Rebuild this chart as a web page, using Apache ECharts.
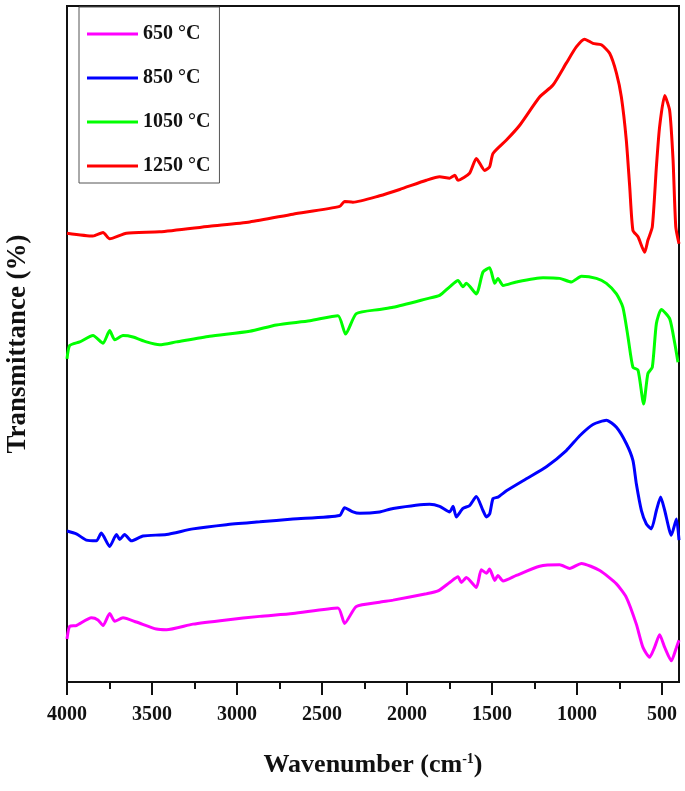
<!DOCTYPE html>
<html>
<head>
<meta charset="utf-8">
<script src="https://cdn.jsdelivr.net/npm/echarts@6/dist/echarts.min.js"></script>
<style>
html,body{margin:0;padding:0;background:#fff;}
#chart{width:685px;height:791px;}
</style>
</head>
<body>
<div id="chart"></div>
<script>
const seriesNames = ['650 °C', '850 °C', '1050 °C', '1250 °C'];
const seriesColors = ['#ff00ff', '#0000ff', '#00ff00', '#ff0000'];
const majorTicks = [4000, 3500, 3000, 2500, 2000, 1500, 1000, 500];
const minorTicks = [3750, 3250, 2750, 2250, 1750, 1250, 750];

const s650 = [[4000,10.3],[3984,12.1],[3945,12.2],[3856,13.3],[3818,13.0],[3788,12.2],[3749,13.9],[3719,12.8],[3671,13.3],[3592,12.7],[3474,11.7],[3415,11.6],[3259,12.4],[3062,13.0],[2866,13.5],[2671,13.9],[2406,14.7],[2367,12.5],[2298,14.9],[2161,15.5],[2082,15.8],[1886,16.7],[1818,17.1],[1749,18.3],[1700,19.1],[1680,18.3],[1651,19.0],[1592,17.6],[1563,20.1],[1533,19.6],[1514,20.2],[1484,18.6],[1465,19.3],[1435,18.5],[1357,19.3],[1220,20.6],[1102,20.8],[1043,20.3],[974,21.0],[866,20.0],[768,18.1],[710,16.2],[651,12.4],[612,9.1],[573,7.7],[544,9.1],[514,10.9],[484,9.1],[445,7.2],[415,9.1],[400,10.1]];

const s850 = [[4000,25.6],[3945,25.2],[3886,24.3],[3827,24.2],[3798,25.3],[3749,23.4],[3709,25.1],[3690,24.4],[3661,25.1],[3621,24.2],[3553,24.9],[3415,25.1],[3259,25.9],[3062,26.5],[2866,26.9],[2671,27.3],[2396,27.8],[2367,28.9],[2318,28.3],[2278,28.1],[2161,28.3],[2082,28.8],[1867,29.4],[1808,29.1],[1749,28.3],[1729,29.1],[1710,27.6],[1671,28.8],[1632,29.2],[1592,30.5],[1553,28.5],[1533,27.6],[1514,28.0],[1494,30.2],[1465,30.4],[1415,31.3],[1298,33.0],[1180,34.7],[1063,37.0],[984,39.1],[906,40.7],[827,41.3],[768,40.3],[710,38.0],[671,35.6],[651,32.3],[621,28.5],[592,26.6],[563,25.9],[533,28.5],[508,30.4],[484,28.5],[445,25.0],[415,27.3],[400,24.3]];

const s1050 = [[4000,50.0],[3984,51.9],[3925,52.4],[3847,53.3],[3788,52.2],[3749,54.0],[3719,52.7],[3671,53.3],[3612,53.1],[3533,52.4],[3455,52.0],[3357,52.4],[3161,53.2],[2925,53.9],[2768,54.8],[2571,55.4],[2406,56.1],[2361,53.5],[2298,56.4],[2161,57.0],[2082,57.3],[1886,58.5],[1808,59.0],[1749,60.2],[1700,61.1],[1671,60.2],[1651,60.7],[1592,59.2],[1553,62.3],[1514,62.9],[1484,60.7],[1465,61.4],[1435,60.4],[1357,60.9],[1200,61.5],[1102,61.4],[1033,60.9],[974,61.7],[886,61.4],[827,60.7],[768,59.2],[730,57.3],[700,53.1],[671,48.8],[641,48.4],[608,43.6],[583,47.9],[557,48.8],[533,55.0],[504,57.0],[455,55.7],[425,52.2],[406,49.5]];

const s1250 = [[4000,67.8],[3847,67.4],[3788,67.9],[3749,67.0],[3651,67.8],[3455,68.0],[3161,68.8],[2925,69.4],[2671,70.5],[2396,71.6],[2367,72.3],[2318,72.2],[2161,73.1],[2043,74.0],[1886,75.3],[1808,75.8],[1749,75.6],[1719,76.0],[1700,75.3],[1632,76.3],[1592,78.4],[1543,76.7],[1514,77.2],[1494,79.1],[1415,81.0],[1337,83.1],[1220,87.1],[1141,88.8],[1063,91.9],[1004,94.2],[955,95.3],[906,94.7],[857,94.5],[808,93.3],[768,90.5],[739,87.1],[710,81.0],[690,74.4],[671,68.2],[641,67.3],[602,65.1],[583,66.8],[557,68.7],[533,77.2],[514,82.9],[484,87.3],[455,85.2],[435,78.2],[419,68.7],[400,66.3]];

const allData = [s650, s850, s1050, s1250];
const FONT = '"Liberation Serif", "Times New Roman", serif';

const chart = echarts.init(document.getElementById('chart'));
chart.setOption({
  animation: false,
  backgroundColor: '#fff',
  grid: {
    left: 67, right: 6, top: 6, bottom: 109,
    containLabel: false,
    outerBoundsMode: 'none',
    show: true, borderColor: '#111', borderWidth: 2, backgroundColor: 'transparent'
  },
  legend: {
    orient: 'vertical',
    left: 79, top: 7,
    padding: [17, 9, 7, 8],
    itemGap: 24,
    itemWidth: 51,
    itemHeight: 3,
    borderColor: '#555',
    borderWidth: 1,
    backgroundColor: '#fff',
    icon: 'rect',
    data: seriesNames,
    textStyle: { fontFamily: FONT, fontWeight: 'bold', fontSize: 20, color: '#111' }
  },
  xAxis: [{
    type: 'value',
    inverse: true,
    min: 400, max: 4000,
    splitLine: { show: false },
    axisLine: { show: true, lineStyle: { color: '#111', width: 2 } },
    axisTick: { show: true, customValues: majorTicks, length: 13, inside: false, lineStyle: { color: '#111', width: 2 } },
    axisLabel: { customValues: majorTicks, formatter: function (v) { return String(v); }, margin: 23, fontFamily: FONT, fontWeight: 'bold', fontSize: 20, color: '#111' },
    name: 'Wavenumber (cm{sup|-1})',
    nameLocation: 'middle',
    nameGap: 70,
    nameTextStyle: {
      fontFamily: FONT, fontWeight: 'bold', fontSize: 26, color: '#111',
      rich: { sup: { fontFamily: FONT, fontWeight: 'bold', fontSize: 14, color: '#111', verticalAlign: 'top', padding: [0, 0, 12, 0] } }
    }
  }, {
    type: 'value',
    inverse: true,
    min: 400, max: 4000,
    position: 'bottom',
    splitLine: { show: false },
    axisLine: { show: false },
    axisTick: { show: true, customValues: minorTicks, length: 7, lineStyle: { color: '#111', width: 2 } },
    axisLabel: { show: false }
  }],
  yAxis: {
    type: 'value',
    min: 4.2, max: 100,
    axisLine: { show: true, lineStyle: { color: '#111', width: 2 } },
    axisTick: { show: false },
    axisLabel: { show: false },
    splitLine: { show: false },
    name: 'Transmittance (%)',
    nameLocation: 'middle',
    nameGap: 35,
    nameTextStyle: { fontFamily: FONT, fontWeight: 'bold', fontSize: 27, color: '#111' }
  },
  series: seriesNames.map((n, i) => ({
    name: n,
    type: 'line',
    xAxisIndex: 0,
    data: allData[i],
    showSymbol: false,
    smooth: 0.2,
    color: seriesColors[i],
    lineStyle: { width: 3, color: seriesColors[i] }
  }))
});
</script>
</body>
</html>
